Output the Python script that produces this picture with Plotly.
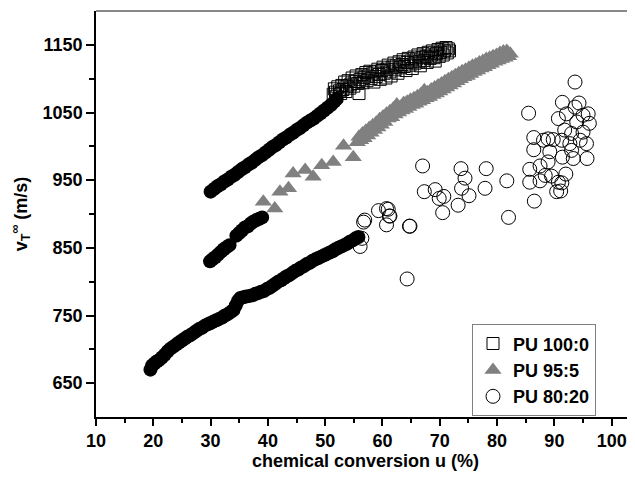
import plotly.graph_objects as go

# ---------------- data ----------------
# filled black circles (low-conversion part, not in legend)
u_black_100 = [30.0, 30.6, 31.2, 31.8, 32.4, 33.0, 33.6, 34.2, 34.8, 35.4, 36.0, 36.6, 37.2, 37.8,
               38.4, 39.0, 39.6, 40.2, 40.8, 41.4, 42.0, 42.6, 43.2, 43.8, 44.4, 45.0, 45.6, 46.2,
               46.8, 47.4, 48.0, 48.6, 49.2, 49.8, 50.4, 51.0, 51.6, 52.0]
v_black_100 = [933, 937, 941, 944, 948, 951, 955, 958, 962, 966, 969, 973, 976, 980,
               984, 987, 991, 995, 999, 1002, 1006, 1010, 1013, 1017, 1020, 1024, 1027, 1031,
               1035, 1038, 1041, 1045, 1049, 1053, 1057, 1061, 1066, 1070]

u_black_95 = [29.9, 30.3, 30.8, 31.3, 31.8, 32.3, 32.8, 33.3, 34.5, 35.0, 35.5, 36.0, 36.5, 37.0,
              37.5, 38.0, 38.5, 39.0]
v_black_95 = [830, 833, 836, 840, 844, 848, 851, 854, 868, 872, 876, 880, 882, 886,
              889, 891, 893, 895]

u_black_80 = [19.5, 19.8, 20.2, 20.6, 21.0, 21.5, 22.0, 22.5, 23.0, 23.5, 24.0, 24.5, 25.0, 25.5,
              26.0, 26.5, 27.0, 27.5, 28.0, 28.5, 29.0, 29.5, 30.0, 30.5, 31.0, 31.5, 32.0, 32.5,
              33.0, 33.5, 34.0, 34.4, 34.8, 35.2, 35.7, 36.2, 36.8, 37.3, 37.8, 38.3, 38.8, 39.3,
              39.8, 40.3, 40.8, 41.3, 41.8, 42.3, 42.8, 43.3, 43.8, 44.3, 44.8, 45.3, 45.8, 46.3,
              46.8, 47.3, 47.8, 48.3, 48.8, 49.3, 49.8, 50.3, 50.8, 51.3, 51.8, 52.3, 52.8, 53.3,
              53.8, 54.3, 54.8, 55.3, 55.8]
v_black_80 = [670, 676, 679, 682, 684, 688, 692, 697, 701, 704, 707, 710, 713, 716,
              719, 721, 724, 727, 730, 732, 735, 737, 739, 741, 743, 745, 747, 750,
              752, 755, 758, 765, 772, 776, 777, 778, 779, 780, 782, 783, 785, 786,
              789, 791, 794, 797, 800, 802, 805, 808, 810, 813, 816, 818, 821, 823,
              826, 828, 831, 833, 835, 837, 839, 841, 843, 845, 848, 850, 852, 854,
              856, 859, 861, 864, 866]

# PU 100:0 (open squares)
u_pu100 = [51.4, 51.6, 51.8, 52.0, 52.2, 52.5, 52.7, 52.9, 53.1, 53.4, 53.6, 53.8, 54.0, 54.3,
           54.5, 54.7, 55.0, 55.2, 55.4, 55.7, 55.9, 56.1, 56.4, 56.6, 56.8, 57.1, 57.3, 57.5,
           57.8, 58.0, 58.2, 58.5, 58.7, 58.9, 59.2, 59.4, 59.6, 59.9, 60.1, 60.3, 60.6, 60.8,
           61.0, 61.3, 61.5, 61.7, 62.0, 62.2, 62.4, 62.7, 62.9, 63.1, 63.4, 63.6, 63.8, 64.1,
           64.3, 64.5, 64.8, 65.0, 65.2, 65.5, 65.7, 65.9, 66.2, 66.4, 66.6, 66.9, 67.1, 67.3,
           67.6, 67.8, 68.0, 68.3, 68.5, 68.7, 69.0, 69.2, 69.4, 69.7, 69.9, 70.1, 70.4, 70.6,
           70.8, 71.1, 71.3, 71.5, 71.7]
v_pu100 = [1077, 1085, 1080, 1074, 1088, 1082, 1078, 1090, 1084, 1095, 1081, 1089, 1097, 1086,
           1092, 1101, 1089, 1096, 1104, 1093, 1078, 1099, 1106, 1094, 1102, 1109, 1097, 1104,
           1111, 1100, 1107, 1095, 1110, 1103, 1114, 1106, 1099, 1112, 1117, 1108, 1101, 1114,
           1120, 1110, 1104, 1117, 1123, 1113, 1119, 1108, 1125, 1116, 1121, 1128, 1118, 1112,
           1124, 1130, 1120, 1126, 1115, 1132, 1123, 1129, 1135, 1125, 1119, 1131, 1137, 1127,
           1133, 1124, 1139, 1130, 1135, 1141, 1131, 1126, 1137, 1143, 1133, 1139, 1145, 1135,
           1141, 1146, 1138, 1144, 1141]

# PU 95:5 (grey triangles)
u_pu95 = [39.2, 41.2, 42.1, 43.6, 44.4, 46.5, 47.9, 49.4, 51.4, 53.2, 54.9,
          55.6, 55.9, 56.2, 56.5, 56.8, 57.1, 57.4, 57.7, 58.0, 58.3, 58.6, 58.9, 59.2, 59.5,
          59.8, 60.1, 60.4, 60.7, 61.0, 61.3, 61.6, 61.9, 62.2, 62.5, 62.8, 63.1, 63.4, 63.7,
          64.0, 64.3, 64.6, 64.9, 65.2, 65.5, 65.8, 66.1, 66.4, 66.7, 67.0, 67.3, 67.6, 67.9,
          68.2, 68.5, 68.8, 69.1, 69.4, 69.7, 70.0, 70.3, 70.6, 70.9, 71.2, 71.5, 71.8, 72.1,
          72.4, 72.7, 73.0, 73.3, 73.6, 73.9, 74.2, 74.5, 74.8, 75.1, 75.4, 75.7, 76.0, 76.3,
          76.6, 76.9, 77.2, 77.5, 77.8, 78.1, 78.4, 78.7, 79.0, 79.3, 79.6, 79.9, 80.2, 80.5,
          80.8, 81.1, 81.4, 81.7, 82.0, 82.3]
v_pu95 = [918, 908, 933, 938, 960, 965, 955, 972, 977, 1001, 984,
          1006, 1014, 1009, 1019, 1012, 1023, 1016, 1027, 1020, 1031, 1024, 1035, 1028, 1040,
          1032, 1044, 1036, 1048, 1041, 1052, 1043, 1056, 1047, 1062, 1050, 1058, 1053, 1064,
          1055, 1066, 1058, 1069, 1061, 1071, 1063, 1074, 1066, 1077, 1068, 1083, 1071, 1080,
          1073, 1084, 1076, 1087, 1078, 1090, 1081, 1093, 1084, 1096, 1087, 1099, 1090, 1102,
          1093, 1105, 1096, 1108, 1099, 1111, 1102, 1113, 1104, 1116, 1107, 1119, 1110, 1121,
          1112, 1124, 1115, 1126, 1117, 1129, 1120, 1131, 1122, 1133, 1125, 1135, 1127, 1138,
          1129, 1140, 1131, 1141, 1133, 1137]

# PU 80:20 (open circles)
u_pu80 = [56.1, 56.4, 56.7, 56.9, 59.3, 60.7, 61.0, 61.2, 60.7, 61.3, 64.3, 64.7, 64.8,
          67.0, 67.3, 69.2, 69.9, 70.7, 70.5, 73.7, 74.4, 73.8, 75.1, 73.2, 78.1, 77.9,
          81.7, 82.0, 85.5, 85.7, 85.7, 86.4, 86.4, 86.5, 87.5, 87.5, 88.1, 88.4, 88.9,
          88.9, 89.2, 89.5, 89.8, 90.4, 90.7, 90.7, 91.1, 91.3, 91.3, 91.4, 91.4, 91.8,
          92.0, 92.1, 92.7, 93.0, 93.0, 93.3, 93.6, 93.6, 93.9, 94.3, 94.5, 95.0, 95.0,
          95.6, 95.7, 95.9, 96.1]
v_pu80 = [852, 864, 888, 891, 905, 884, 907, 897, 908, 897, 804, 882, 882,
          971, 933, 936, 923, 926, 902, 967, 953, 938, 927, 913, 967, 938,
          949, 895, 1049, 966, 947, 1013, 995, 919, 949, 971, 1009, 957, 977,
          1011, 992, 956, 1010, 933, 947, 1041, 934, 946, 1009, 984, 1065, 1024,
          959, 1048, 1004, 1019, 994, 982, 1095, 1058, 1036, 1064, 1009, 1021, 1046,
          1004, 982, 1048, 1034]

legend_names = ["PU 100:0", "PU 95:5", "PU 80:20"]

x_range = [10, 104.07]
y_range = [600, 1200]
x_title = "chemical conversion u (%)"
y_title = "v<sub>T</sub><sup>∞</sup> (m/s)"
y_major = [650, 750, 850, 950, 1050, 1150]
y_minor = [700, 800, 900, 1000, 1100]

# ---------------- figure ----------------
FONT = "Liberation Sans, Arial, sans-serif"
fig = go.Figure()

for ux, vy in [(u_black_80, v_black_80), (u_black_95, v_black_95), (u_black_100, v_black_100)]:
    fig.add_trace(go.Scatter(x=ux, y=vy, mode="markers", showlegend=False, hoverinfo="skip",
                             marker=dict(symbol="circle", size=14, color="black",
                                         line=dict(width=0))))

fig.add_trace(go.Scatter(x=u_pu100, y=v_pu100, mode="markers", name=legend_names[0],
                         marker=dict(symbol="square-open", size=12, color="black",
                                     line=dict(width=1, color="black"))))
fig.add_trace(go.Scatter(x=u_pu95, y=v_pu95, mode="markers", name=legend_names[1],
                         marker=dict(symbol="triangle-up", size=15, color="#808080",
                                     line=dict(width=0))))
fig.add_trace(go.Scatter(x=u_pu80, y=v_pu80, mode="markers", name=legend_names[2],
                         marker=dict(symbol="circle-open", size=14, color="black",
                                     line=dict(width=1, color="black"))))

fig.add_shape(type="line", xref="paper", yref="paper", x0=0, x1=1, y0=1, y1=1,
              line=dict(color="#606060", width=1.5))

fig.update_layout(
    width=627, height=476,
    margin=dict(l=88, r=0, t=3, b=67),
    paper_bgcolor="white", plot_bgcolor="white",
    font=dict(family=FONT, size=18, color="black", weight="bold"),
    showlegend=True,
    legend=dict(x=0.6976, y=0.2283, xanchor="left", yanchor="top",
                bordercolor="#808080", borderwidth=1, bgcolor="white",
                font=dict(family=FONT, size=18, color="black", weight="bold"),
                itemsizing="trace", tracegroupgap=0),
    xaxis=dict(range=x_range, tick0=10, dtick=10, ticks="outside", ticklen=7, tickwidth=1.5,
               tickcolor="black", showline=True, linecolor="black", linewidth=1.5,
               showgrid=False, zeroline=False, automargin=False,
               minor=dict(dtick=5, tick0=10, ticks="outside", ticklen=4, tickwidth=1.5,
                          tickcolor="black", showgrid=False),
               title=dict(text=x_title, font=dict(size=18), standoff=1),
               tickfont=dict(size=18)),
    yaxis=dict(range=y_range, tickvals=y_major, ticks="outside", ticklen=8, tickwidth=1.5,
               tickcolor="black", showline=True, linecolor="black", linewidth=1.5,
               showgrid=False, zeroline=False, automargin=False,
               minor=dict(tickvals=y_minor, ticks="outside", ticklen=5, tickwidth=1.5,
                          tickcolor="black", showgrid=False),
               title=dict(text=y_title, font=dict(size=18), standoff=12),
               tickfont=dict(size=18)),
)

fig.write_html("out.html")
